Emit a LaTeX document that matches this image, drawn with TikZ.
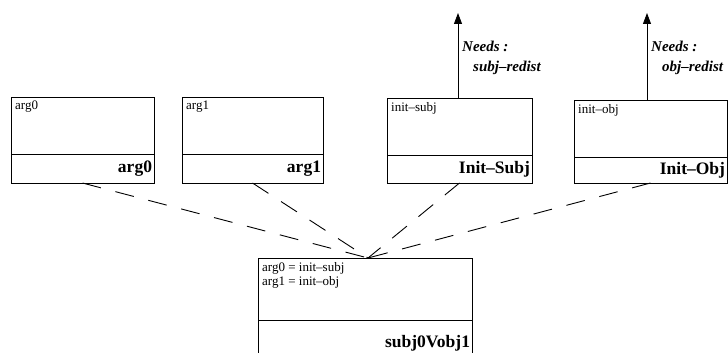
\documentclass[tikz,border=0pt]{standalone}
\usepackage{fontspec}
\setmainfont{Liberation Serif}
\usetikzlibrary{positioning, arrows.meta}
\tikzset{
x=1pt, y=-1pt, % picture is laid out in pixels, counted from the top
attrpart/.style={draw, line width=0.8pt, inner sep=0pt, outer sep=0pt, minimum height=57pt}, % upper compartment
namepart/.style={draw, line width=0.8pt, inner xsep=2pt, inner ysep=0pt, outer sep=0pt, align=right,
  font=\fontsize{17.5}{19}\selectfont\bfseries}, % lower compartment with the class name
attrtext/.style={anchor=north west, inner sep=4pt, align=left,
  font=\fontsize{13}{14}\selectfont},
needtext/.style={anchor=north west, inner sep=0pt, align=left,
  font=\fontsize{15}{20}\selectfont\bfseries\itshape},
assoc/.style={line width=0.9pt, dash pattern=on 19pt off 15pt},
needs/.style={line width=0.8pt, -{Triangle[length=11pt, width=8pt]}},
}
\begin{document}
\begin{tikzpicture}
\useasboundingbox (0,0) rectangle (728,353);
\clip (0,0) rectangle (728,353);

% the four upper classes
\node[attrpart, minimum width=143pt, anchor=north west] (arg0attr) at (11,97) {};
\node[namepart, text width=139pt, minimum height=29pt, below=0pt of arg0attr] (arg0name) {arg0};
\node[attrtext] (arg0txt) at (arg0attr.north west) {arg0};

\node[attrpart, minimum width=141pt, anchor=north west] (arg1attr) at (182,97) {};
\node[namepart, text width=137pt, minimum height=29pt, below=0pt of arg1attr] (arg1name) {arg1};
\node[attrtext] (arg1txt) at (arg1attr.north west) {arg1};

\node[attrpart, minimum width=145pt, anchor=north west] (subjattr) at (387,98) {};
\node[namepart, text width=141pt, minimum height=28pt, below=0pt of subjattr] (subjname) {Init--Subj};
\node[attrtext] (subjtxt) at (subjattr.north west) {init--subj};

\node[attrpart, minimum width=153pt, anchor=north west] (objattr) at (574,100) {};
\node[namepart, text width=149pt, minimum height=26pt, below=0pt of objattr] (objname) {Init--Obj};
\node[attrtext] (objtxt) at (objattr.north west) {init--obj};

% the combined class
\node[attrpart, minimum width=214pt, minimum height=62pt, anchor=north west] (combattr) at (258,258) {};
\node[namepart, text width=210pt, minimum height=46pt, below=0pt of combattr] (combname) {subj0Vobj1};
\node[attrtext] (combtxt) at (combattr.north west) {arg0 = init--subj\\arg1 = init--obj};

% needs arrows
\coordinate (subjtip) at (458,13);
\coordinate (objtip) at (647,13);
\draw[needs] (subjattr.north -| subjtip) -- (subjtip);
\draw[needs] (objattr.north -| objtip) -- (objtip);
\node[needtext] (subjneed) at (462,41) {Needs :\\\hspace*{11pt}subj--redist};
\node[needtext] (objneed) at (651,41) {Needs :\\\hspace*{11pt}obj--redist};

% dashed links
\coordinate (meet) at (368,258);
\draw[assoc] (arg0name.south) -- (meet);
\draw[assoc] (arg1name.south) -- (meet);
\draw[assoc] (subjname.south) -- (meet);
\draw[assoc] (objname.south) -- (meet);
\end{tikzpicture}
\end{document}
